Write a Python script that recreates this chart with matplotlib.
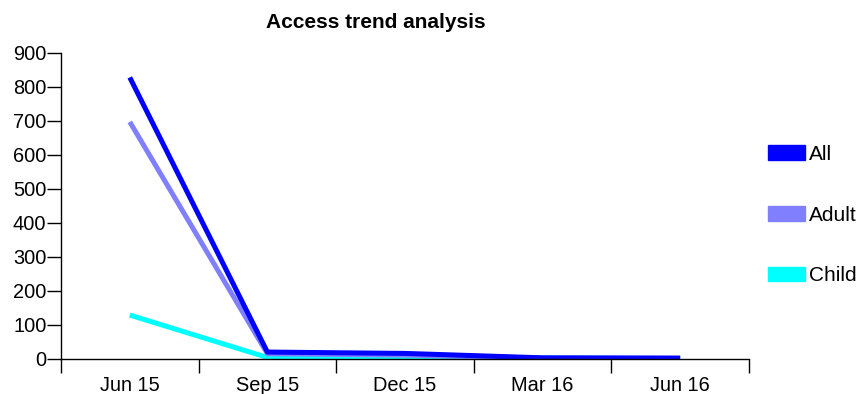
import matplotlib.pyplot as plt
from matplotlib.patches import Patch
import numpy as np

plt.rcParams['font.family'] = ['Liberation Sans', 'DejaVu Sans']

quarters = ["Jun 15", "Sep 15", "Dec 15", "Mar 16", "Jun 16"]
all_users = [828, 19, 15, 2, 1]
adult = [697, 14, 10, 1, 1]
child = [128, 3, 2, 1, 0]

series = [("All", all_users, "#0000ff"), ("Adult", adult, "#8080ff"), ("Child", child, "#00ffff")]

fig = plt.figure(figsize=(8.6, 3.94), dpi=100)
ax = fig.add_axes([0.0709, 0.0901, 0.8, 0.7754])

x = np.arange(len(quarters))
# draw back to front so "All" ends on top
for name, vals, color in reversed(series):
    ax.plot(x, vals, color=color, lw=3.6, solid_capstyle='butt')

ax.set_xlim(-0.5, len(quarters) - 0.5)
ax.set_ylim(0, 900)
ax.set_yticks(np.arange(0, 901, 100))
ax.set_xticks(np.arange(-0.5, len(quarters)), [])
ax.set_xticks(x, quarters, minor=True)
ax.tick_params(axis='x', which='major', direction='out', length=10, width=1)
ax.tick_params(axis='x', which='minor', length=0, labelsize=14.4, pad=12.5)
ax.tick_params(axis='y', direction='out', length=10, width=1, labelsize=14.4, pad=0.5)

for s in ['top', 'right']:
    ax.spines[s].set_visible(False)
for s in ['left', 'bottom']:
    ax.spines[s].set_linewidth(1)

fig.text(0.4366, 0.944, "Access trend analysis", ha='center', va='center',
         fontsize=15, fontweight='bold')

handles = [Patch(color=c, label=n) for n, _, c in series]
fig.legend(handles=handles, loc='center left', bbox_to_anchor=(0.893, 0.454),
           frameon=False, fontsize=15, handlelength=1.78, handleheight=0.72,
           labelspacing=2.0, handletextpad=0.2, borderpad=0, borderaxespad=0)

fig.savefig("out.png", dpi=100)
